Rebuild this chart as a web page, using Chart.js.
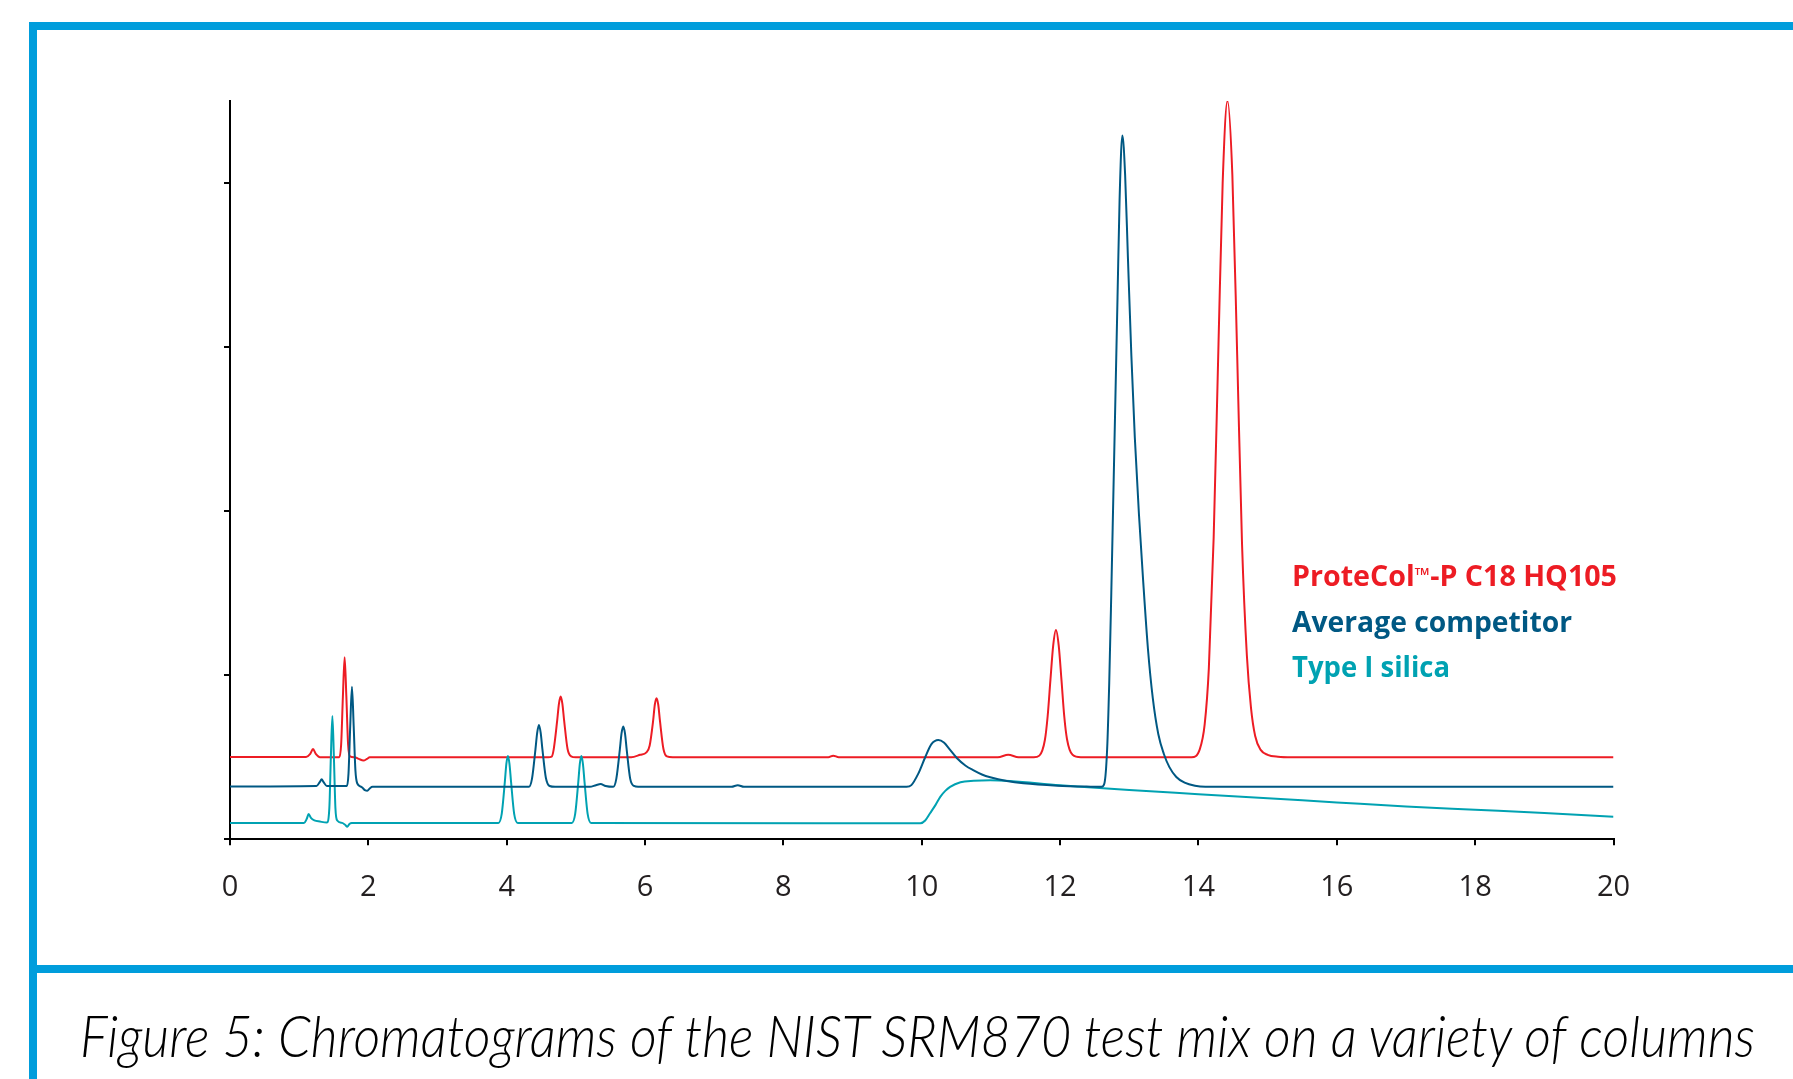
<!DOCTYPE html>
<html>
<head>
<meta charset="utf-8">
<title>Chromatograms NIST SRM870</title>
<script src="https://cdn.jsdelivr.net/npm/chart.js@4.4.1/dist/chart.umd.min.js"></script>
<style>
  html, body { margin: 0; padding: 0; background: #fff; overflow: hidden; }
  #wrap { position: relative; width: 1793px; height: 1079px; }
  #chromChart { position: absolute; left: 0; top: 0; }
  .frame { position: absolute; left: 29px; top: 22px; width: 1800px; height: 1100px;
           border-left: 8px solid #009ddc; border-top: 8px solid #009ddc; pointer-events: none; }
  .divider { position: absolute; left: 29px; top: 965px; width: 1800px; height: 8px; background: #009ddc; }
  .txt { position: absolute; white-space: nowrap; line-height: 1; transform-origin: 0 0; }
  .legend { font-family: "Open Sans", sans-serif; font-weight: 700; font-size: 28px; }
  .tm { font-size: 0.7em; vertical-align: 0.2em; line-height: 0; }
  #caption { font-family: "Lato", "Open Sans", sans-serif; font-style: italic; font-weight: 300; font-size: 58px; color: #000; }
</style>
</head>
<body>
<div id="wrap">
  <canvas id="chromChart" width="1793" height="1079"></canvas>
  <div class="frame"></div>
  <div class="divider"></div>
  <div id="leg1" class="txt legend" style="color:#ed1c24">ProteCol<span class="tm">™</span>-P C18 HQ105</div>
  <div id="leg2" class="txt legend" style="color:#005883">Average competitor</div>
  <div id="leg3" class="txt legend" style="color:#00a2b2">Type I silica</div>
  <div id="caption" class="txt">Figure 5: Chromatograms of the NIST SRM870 test mix on a variety of columns</div>
</div>
<script>
// retention time (min) ticks and signal ticks
const timeTicks = [0, 2, 4, 6, 8, 10, 12, 14, 16, 18, 20];
const signalTicks = [0, 1, 2, 3, 4];

// ProteCol-P C18 HQ105 (red trace, offset baseline ~0.5)
const proteTime = [0, 1.10, 1.16, 1.20, 1.24, 1.30, 1.58, 1.607, 1.632, 1.657, 1.682, 1.707, 1.735, 1.80, 1.86, 1.93, 1.98, 2.02,
  4.60, 4.65, 4.68, 4.73, 4.755, 4.78, 4.805, 4.83, 4.88, 4.93, 5.00,
  5.80, 5.93, 6.02, 6.066, 6.116, 6.141, 6.166, 6.191, 6.216, 6.266, 6.316, 6.40,
  8.65, 8.72, 8.80, 11.10, 11.25, 11.40,
  11.62, 11.70, 11.78, 11.82, 11.86, 11.90, 11.94, 11.98, 12.02, 12.06, 12.10, 12.18, 12.30,
  13.90, 14.02, 14.09, 14.15, 14.22, 14.29, 14.35, 14.42, 14.49, 14.56, 14.63, 14.70, 14.76, 14.82, 14.90, 15.00, 15.15, 15.35, 20];
const proteSignal = [0.502, 0.502, 0.52, 0.55, 0.52, 0.50, 0.50, 0.58, 0.87, 1.11, 0.87, 0.58, 0.505, 0.50, 0.49, 0.48, 0.49, 0.50,
  0.50, 0.504, 0.55, 0.725, 0.826, 0.87, 0.826, 0.725, 0.55, 0.506, 0.50,
  0.50, 0.515, 0.53, 0.57, 0.72, 0.82, 0.86, 0.82, 0.72, 0.55, 0.505, 0.50,
  0.50, 0.51, 0.50, 0.50, 0.515, 0.50,
  0.50, 0.51, 0.605, 0.75, 0.97, 1.18, 1.275, 1.18, 0.97, 0.75, 0.61, 0.515, 0.50,
  0.50, 0.55, 0.70, 1.04, 1.84, 3.02, 4.00, 4.50, 4.05, 2.95, 1.80, 1.12, 0.80, 0.63, 0.545, 0.515, 0.503, 0.50, 0.50];

// Average competitor (dark blue trace, baseline ~0.32)
const compTime = [0, 1.25, 1.30, 1.325, 1.35, 1.40, 1.69, 1.713, 1.738, 1.763, 1.788, 1.813, 1.84, 1.90, 1.95, 1.985, 2.02, 2.06,
  4.32, 4.366, 4.416, 4.441, 4.466, 4.491, 4.516, 4.566, 4.62, 4.70,
  5.20, 5.29, 5.357, 5.43, 5.54, 5.585, 5.635, 5.66, 5.685, 5.71, 5.735, 5.785, 5.84, 5.90,
  7.25, 7.34, 7.43,
  9.78, 9.85, 9.95, 10.05, 10.14, 10.24, 10.32, 10.41, 10.51, 10.63, 10.75, 10.87, 10.99, 11.23, 11.47, 11.96, 12.44,
  12.60, 12.64, 12.68, 12.71, 12.74, 12.77, 12.80, 12.83, 12.86, 12.90, 12.94, 12.98, 13.03, 13.08, 13.14, 13.20,
  13.27, 13.34, 13.42, 13.50, 13.58, 13.68, 13.80, 13.95, 14.10, 20];
const compSignal = [0.322, 0.325, 0.35, 0.366, 0.35, 0.325, 0.325, 0.40, 0.69, 0.93, 0.69, 0.42, 0.34, 0.32, 0.30, 0.296, 0.31, 0.32,
  0.32, 0.37, 0.55, 0.65, 0.697, 0.65, 0.55, 0.375, 0.325, 0.32,
  0.32, 0.33, 0.337, 0.325, 0.32, 0.37, 0.545, 0.645, 0.687, 0.645, 0.545, 0.37, 0.325, 0.32,
  0.32, 0.33, 0.32,
  0.32, 0.33, 0.40, 0.50, 0.58, 0.605, 0.59, 0.545, 0.494, 0.45, 0.42, 0.395, 0.378, 0.355, 0.341, 0.327, 0.321,
  0.32, 0.34, 0.55, 0.95, 1.50, 2.10, 2.70, 3.30, 3.90, 4.29, 4.05, 3.55, 2.95, 2.45, 1.98, 1.58,
  1.16, 0.86, 0.64, 0.52, 0.44, 0.38, 0.345, 0.326, 0.32, 0.32];

// Type I silica (teal trace, baseline ~0.1)
const silicaTime = [0, 1.07, 1.11, 1.137, 1.17, 1.22, 1.30, 1.40, 1.436, 1.458, 1.48, 1.502, 1.524, 1.55, 1.62, 1.66, 1.697, 1.73, 1.76,
  3.88, 3.928, 3.973, 3.995, 4.018, 4.04, 4.063, 4.108, 4.16,
  4.94, 4.99, 5.035, 5.057, 5.08, 5.102, 5.125, 5.17, 5.22,
  9.98, 10.05, 10.12, 10.20, 10.27, 10.34, 10.41, 10.56, 10.75, 10.99,
  12, 13, 14, 15, 16, 17, 18, 19, 20];
const silicaSignal = [0.10, 0.10, 0.125, 0.154, 0.13, 0.115, 0.108, 0.102, 0.19, 0.50, 0.752, 0.50, 0.19, 0.115, 0.10, 0.09, 0.077, 0.095, 0.10,
  0.10, 0.155, 0.35, 0.46, 0.508, 0.46, 0.35, 0.155, 0.10,
  0.10, 0.155, 0.35, 0.46, 0.508, 0.46, 0.35, 0.155, 0.10,
  0.098, 0.115, 0.159, 0.21, 0.26, 0.295, 0.32, 0.348, 0.357, 0.36,
  0.33, 0.30, 0.275, 0.25, 0.225, 0.20, 0.18, 0.16, 0.138];

const toPoints = (xs, ys) => xs.map((x, i) => ({ x: x, y: ys[i] }));

const ctx = document.getElementById("chromChart").getContext("2d");

const chromChart = new Chart(ctx, {
  type: "line",
  data: {
    datasets: [
      { label: "ProteCol™-P C18 HQ105", data: toPoints(proteTime, proteSignal), borderColor: "#ed1c24", order: 2 },
      { label: "Average competitor", data: toPoints(compTime, compSignal), borderColor: "#005883", order: 0 },
      { label: "Type I silica", data: toPoints(silicaTime, silicaSignal), borderColor: "#00a2b2", order: 1 }
    ]
  },
  options: {
    responsive: false,
    animation: false,
    parsing: false,
    layout: { padding: { left: 220, right: 179.5, top: 101, bottom: 179.7 } },
    plugins: { legend: { display: false }, tooltip: { enabled: false } },
    elements: {
      point: { radius: 0 },
      line: { borderWidth: 2, cubicInterpolationMode: "monotone", fill: false }
    },
    scales: {
      x: {
        type: "linear",
        min: 0,
        max: 20,
        afterFit: (scale) => { scale.height = 60; },
        afterBuildTicks: (scale) => { scale.ticks = timeTicks.map(v => ({ value: v })); },
        grid: { drawOnChartArea: false, drawTicks: true, tickLength: 6, color: "#000", lineWidth: 2 },
        border: { display: true, color: "#000", width: 2 },
        ticks: { padding: 25, color: "#231f20", font: { family: "Open Sans", size: 29 }, maxRotation: 0 }
      },
      y: {
        type: "linear",
        min: 0,
        max: 4.5,
        afterFit: (scale) => { scale.width = 10; },
        afterBuildTicks: (scale) => { scale.ticks = signalTicks.map(v => ({ value: v })); },
        grid: { drawOnChartArea: false, drawTicks: true, tickLength: 6, color: "#000", lineWidth: 2 },
        border: { display: true, color: "#000", width: 2 },
        ticks: { display: false }
      }
    }
  }
});

// put a text line on a given baseline and stretch it to the measured width
function placeText(id, left, baseline, width) {
  const el = document.getElementById(id);
  el.style.left = left + "px";
  el.style.top = "0px";
  const probe = document.createElement("span");
  probe.style.cssText = "display:inline-block;width:0;height:0;vertical-align:baseline";
  el.appendChild(probe);
  const box = el.getBoundingClientRect();
  const base = probe.getBoundingClientRect().top - box.top;
  el.style.top = (baseline - base) + "px";
  el.style.transform = "scaleX(" + (width / box.width) + ")";
}

placeText("leg1", 1292, 586, 325);
placeText("leg2", 1292, 632, 280);
placeText("leg3", 1292, 677, 158);
placeText("caption", 80, 1057, 1675);
</script>
</body>
</html>
